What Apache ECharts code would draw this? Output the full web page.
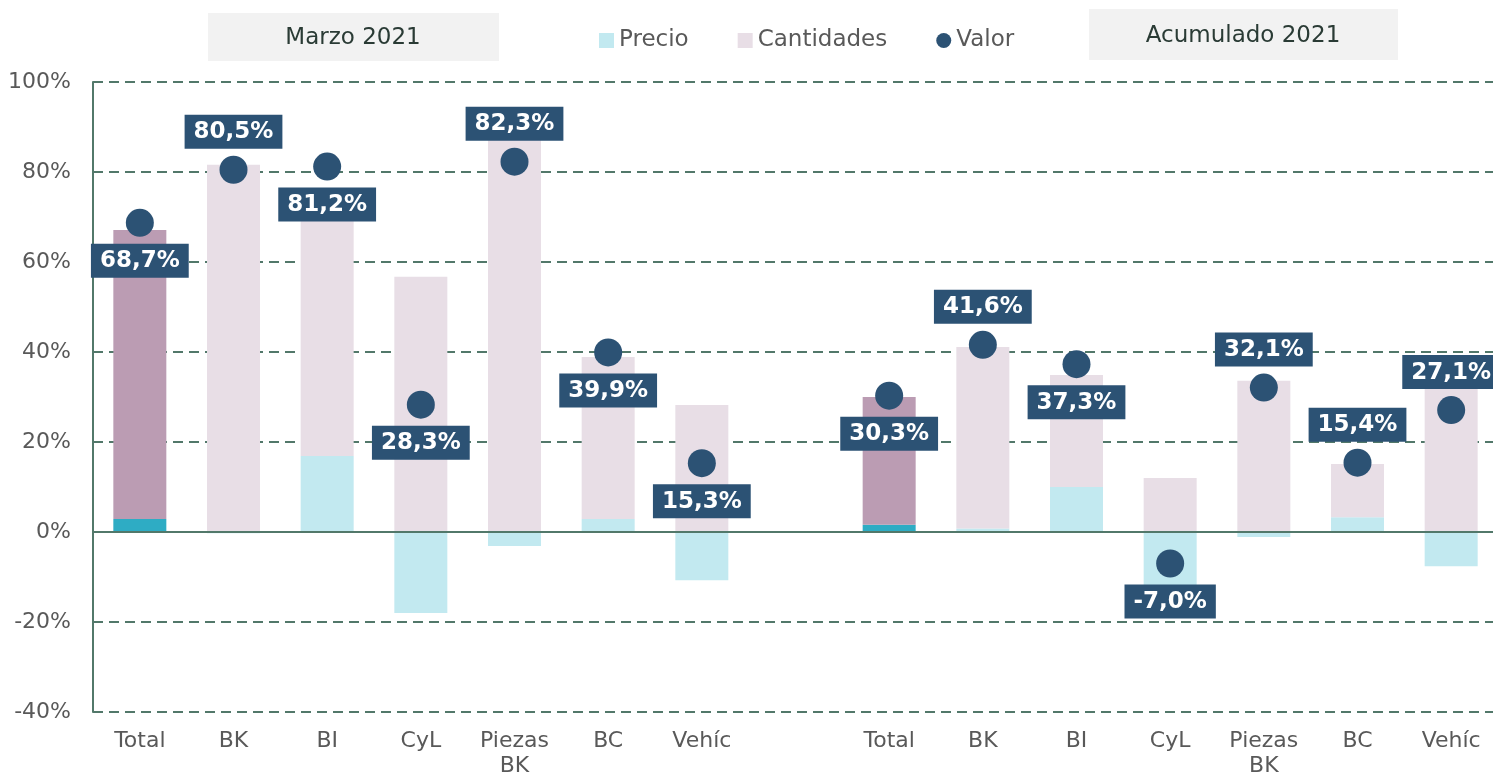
<!DOCTYPE html>
<html>
<head>
<meta charset="utf-8">
<script src="https://cdn.jsdelivr.net/npm/echarts@6/dist/echarts.min.js"></script>
<style>
  html, body { margin: 0; padding: 0; background: #fff; }
  #main { width: 1493px; height: 774px; }
</style>
</head>
<body>
<div id="main"></div>
<script>
// datos (tasas de variación, %)
var categorias = ['Total', 'BK', 'BI', 'CyL', 'Piezas\nBK', 'BC', 'Vehíc', '',
  'Total', 'BK', 'BI', 'CyL', 'Piezas\nBK', 'BC', 'Vehíc'];
var precio = [2.9, -0.3, 16.9, -18.0, -3.1, 2.9, -10.7, null,
  1.6, 0.8, 10.0, -17.0, -1.1, 3.3, -7.6];
var cantidades = [64.2, 81.6, 55.0, 56.7, 88.2, 36.0, 28.2, null,
  28.4, 40.3, 24.9, 12.0, 33.6, 11.8, 37.5];
var valor = [68.7, 80.5, 81.2, 28.3, 82.3, 39.9, 15.3, null,
  30.3, 41.6, 37.3, -7.0, 32.1, 15.4, 27.1];
var ticksY = [-40, -20, 0, 20, 40, 60, 80, 100];

// lado de la etiqueta de cada punto
var labelSide = ['bottom', 'top', 'bottom', 'bottom', 'top', 'bottom', 'bottom', 'top',
  'bottom', 'top', 'bottom', 'bottom', 'top', 'top', 'top'];

var totalIdx = [0, 8];
var navy = '#2c5274';
var gridColor = '#52786a';
var txtGray = '#595959';
var font = 'DejaVu Sans';

var myChart = echarts.init(document.getElementById('main'));

var precioData = precio.map(function(v, i) {
  if (totalIdx.indexOf(i) >= 0) return { value: v, itemStyle: { color: '#2eacc4' } };
  return v;
});
var cantData = cantidades.map(function(v, i) {
  if (totalIdx.indexOf(i) >= 0) return { value: v, itemStyle: { color: '#bb9cb3' } };
  return v;
});
var valorData = valor.map(function(v, i) {
  return { value: v, label: { position: labelSide[i] } };
});

var option = {
  animation: false,
  textStyle: { fontFamily: font },
  grid: { left: 93, right: -5, top: 82, bottom: 62, outerBoundsMode: 'none', containLabel: false },
  legend: {
    top: 24,
    left: 594,
    itemWidth: 15,
    itemHeight: 15,
    itemGap: 49,
    textStyle: { fontSize: 23, color: txtGray, fontFamily: font },
    data: [
      { name: 'Precio', icon: 'rect' },
      { name: 'Cantidades', icon: 'rect' },
      { name: 'Valor', icon: 'circle' }
    ]
  },
  graphic: [
    { type: 'rect', shape: { x: 208, y: 13, width: 291, height: 48 }, style: { fill: '#f2f2f2' } },
    { type: 'text', x: 353, y: 38, style: { text: 'Marzo 2021', font: '23px "DejaVu Sans"', fill: '#2a3b35', textAlign: 'center', textVerticalAlign: 'middle' } },
    { type: 'rect', shape: { x: 1089, y: 9, width: 309, height: 51 }, style: { fill: '#f2f2f2' } },
    { type: 'text', x: 1243, y: 36, style: { text: 'Acumulado 2021', font: '23px "DejaVu Sans"', fill: '#2a3b35', textAlign: 'center', textVerticalAlign: 'middle' } }
  ],
  xAxis: {
    type: 'category',
    data: categorias,
    axisLine: { show: false },
    axisTick: { show: false },
    axisLabel: { color: txtGray, fontSize: 22, lineHeight: 25, margin: 17, interval: 0, fontFamily: font }
  },
  yAxis: {
    type: 'value',
    min: ticksY[0],
    max: ticksY[ticksY.length - 1],
    interval: 20,
    axisLine: { show: true, lineStyle: { color: gridColor, width: 2 } },
    axisTick: { show: false },
    axisLabel: { formatter: '{value}%', color: txtGray, fontSize: 22, margin: 22, fontFamily: font },
    splitLine: { lineStyle: { color: gridColor, width: 2, type: [10, 6] } }
  },
  series: [{
    name: 'Precio',
    type: 'bar',
    stack: 'v',
    barWidth: 53,
    itemStyle: { color: '#c2e9f0' },
    data: precioData,
    markLine: {
      silent: true,
      symbol: 'none',
      label: { show: false },
      lineStyle: { color: gridColor, width: 2, type: 'solid' },
      data: [{ yAxis: 0 }]
    }
  }, {
    name: 'Cantidades',
    type: 'bar',
    stack: 'v',
    barWidth: 53,
    itemStyle: { color: '#e8dee6' },
    data: cantData
  }, {
    name: 'Valor',
    type: 'scatter',
    symbolSize: 28,
    z: 5,
    itemStyle: { color: navy, opacity: 1 },
    label: {
      show: true,
      distance: 7,
      color: '#fff',
      fontWeight: 'bold',
      fontSize: 23,
      fontFamily: font,
      backgroundColor: navy,
      padding: [6, 9, 5, 9],
      formatter: function(p) {
        return p.value.toFixed(1).replace('.', ',') + '%';
      }
    },
    data: valorData
  }]
};

myChart.setOption(option);
</script>
</body>
</html>
